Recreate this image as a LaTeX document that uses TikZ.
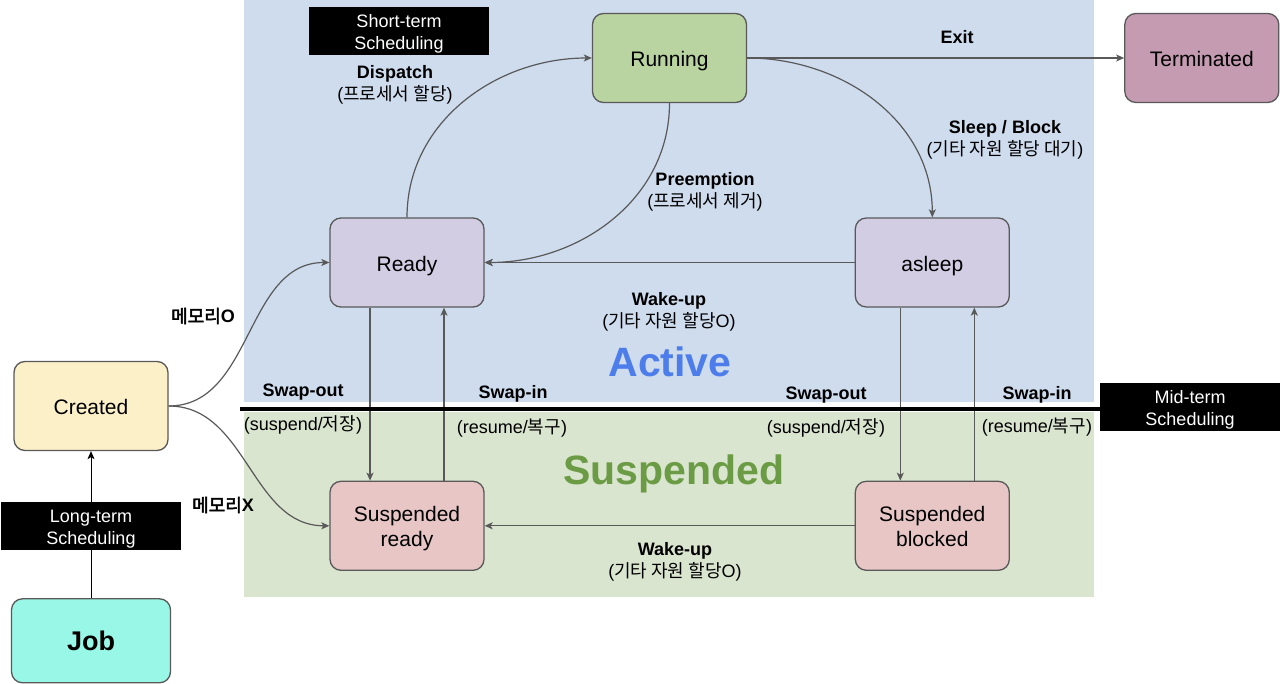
\documentclass[tikz,border=0pt]{standalone}
\usepackage{fontspec}
\setmainfont{Liberation Sans}
\newfontfamily\hangul{Noto Sans CJK KR}[AutoFakeBold=2.5]
\usetikzlibrary{positioning, arrows.meta}
\tikzset{>={Stealth[length=8pt,width=7pt,inset=2pt]}}
\definecolor{activebg}{HTML}{CEDCEE}
\definecolor{suspbg}{HTML}{D9E5CE}
\definecolor{runfill}{HTML}{B9D4A0}
\definecolor{rdyfill}{HTML}{D3CDE4}
\definecolor{termfill}{HTML}{C59BB2}
\definecolor{crtfill}{HTML}{FCF0C8}
\definecolor{jobfill}{HTML}{99F7E7}
\definecolor{susfill}{HTML}{E8C6C6}
\definecolor{edgegray}{HTML}{595959}
\definecolor{activeblue}{HTML}{4C7DEB}
\definecolor{suspgreen}{HTML}{6B9B44}

\begin{document}
\begin{tikzpicture}[x=1pt,y=-1pt,semithick]
  \tikzstyle{state}=[rectangle,rounded corners=11pt,draw=edgegray,line width=1.3pt,minimum width=154pt,minimum height=89pt,text height=21pt,text depth=3pt,font=\fontsize{21}{25}\selectfont]
  \tikzstyle{twoline}=[align=center,text height=45pt,text depth=3pt]
  \tikzstyle{sched}=[fill=black,text=white,minimum width=180pt,minimum height=48pt,align=center,text height=39pt,text depth=2pt,font=\fontsize{18}{22}\selectfont]
  \tikzstyle{lbl}=[align=center,inner sep=0pt,font=\fontsize{18}{22}\selectfont]
  \tikzstyle{arr}=[->,color=edgegray,line width=1.2pt]

  \useasboundingbox (0,0) rectangle (1280,684);
  \fill[activebg] (244,0) rectangle (1094,402);
  \fill[suspbg] (244,412) rectangle (1094,597);

  \node[font=\fontsize{41}{45}\selectfont\bfseries,text=activeblue] (activetxt) at (670,362) {Active};
  \node[font=\fontsize{41}{45}\selectfont\bfseries,text=suspgreen] (susptxt) at (674,474) {Suspended};

  \node[state,fill=runfill] (running) at (669.5,58) {Running};
  \node[state,fill=termfill] (terminated) [right=377pt of running] {Terminated};
  \node[state,fill=rdyfill] (ready) at (407,262.5) {Ready};
  \node[state,fill=rdyfill] (asleep) [right=370pt of ready] {asleep};
  \node[state,twoline,fill=susfill] (sready) [below=173pt of ready] {Suspended\\ready};
  \node[state,twoline,fill=susfill] (sblocked) [below=173pt of asleep] {Suspended\\blocked};
  \node[state,fill=crtfill] (created) at (91,406) {Created};
  \node[state,fill=jobfill,minimum width=159pt,minimum height=84pt,text height=23pt,font=\fontsize{27}{30}\selectfont\bfseries] (job) [below=147pt of created] {Job};

  \path[arr] (ready.north) edge[out=90,in=180] (running.west);
  \path[arr] (running.south) edge[out=-90,in=0] (ready.east);
  \path[arr] (running.east) edge[out=0,in=90] (asleep.north);
  \path[arr] (running) edge (terminated);
  \path[arr] (asleep) edge (ready);
  \path[arr] (created.east) edge[out=0,in=180] (ready.west);
  \path[arr] (created.east) edge[out=0,in=180] (sready.west);
  \path[arr] ([xshift=-37pt]ready.south) edge ([xshift=-37pt]sready.north);
  \path[arr] ([xshift=37pt]sready.north) edge ([xshift=37pt]ready.south);
  \path[arr] ([xshift=-32pt]asleep.south) edge ([xshift=-32pt]sblocked.north);
  \path[arr] ([xshift=42pt]sblocked.north) edge ([xshift=42pt]asleep.south);
  \path[arr] (sblocked) edge (sready);
  \path[arr,color=black,line width=1pt] (job) edge (created);

  % scheduling boxes
  \node[sched] (shortterm) at (399,31.5) {Short-term\\Scheduling};
  \node[sched] (longterm) at (91,526) {Long-term\\Scheduling};
  \node[sched] (midterm) at (1190,407) {Mid-term\\Scheduling};
  \coordinate (lineleft) at (240,409);
  \draw[line width=4.5pt] (lineleft) -- (lineleft -| midterm.west);

  % edge labels
  \node[lbl] (exitlbl) at (957,37) {\bfseries Exit};
  \node[lbl] (dispatchlbl) at (395,84.5) {{\bfseries Dispatch}\\({\hangul 프로세서 할당})};
  \node[lbl] (preemptlbl) at (705,192) {{\bfseries Preemption}\\({\hangul 프로세서 제거})};
  \node[lbl] (sleeplbl) at (1005,139.5) {{\bfseries Sleep / Block}\\({\hangul 기타 자원 할당 대기})};
  \node[lbl] (wakelbl) at (669,311.5) {{\bfseries Wake-up}\\({\hangul 기타 자원 할당}O)};
  \node[lbl] (swakelbl) at (675,561.5) {{\bfseries Wake-up}\\({\hangul 기타 자원 할당}O)};
  \node[lbl] (memolbl) at (203,316) {\bfseries{\hangul 메모리}O};
  \node[lbl] (memxlbl) at (223,505) {\bfseries{\hangul 메모리}X};
  \node[lbl] (outlbl) at (303,392) {\bfseries Swap-out};
  \node[lbl] (suslbl) at (303,424.5) {(suspend/{\hangul 저장})};
  \node[lbl] (inlbl) at (513,394) {\bfseries Swap-in};
  \node[lbl] (reslbl) at (512,428) {(resume/{\hangul 복구})};
  \node[lbl] (outlbltwo) at (826,395) {\bfseries Swap-out};
  \node[lbl] (suslbltwo) at (826,427.5) {(suspend/{\hangul 저장})};
  \node[lbl] (inlbltwo) at (1037,395) {\bfseries Swap-in};
  \node[lbl] (reslbltwo) at (1037,427.5) {(resume/{\hangul 복구})};
\end{tikzpicture}
\end{document}
